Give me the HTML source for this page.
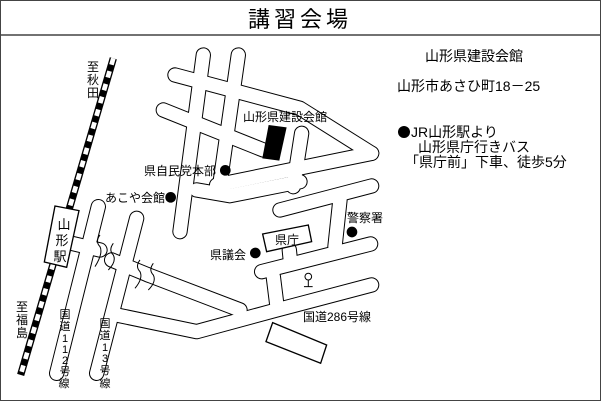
<!DOCTYPE html>
<html><head><meta charset="utf-8"><style>
html,body{margin:0;padding:0;background:#fff}
svg{display:block}
text{font-family:"Liberation Sans","Noto Sans CJK JP",sans-serif;fill:#000}
</style></head><body>
<svg width="601" height="401" viewBox="0 0 601 401" xmlns="http://www.w3.org/2000/svg">
<rect x="0.5" y="0.5" width="600" height="400" fill="#fff" stroke="#444" stroke-width="1"/>
<line x1="0" y1="35" x2="601" y2="35" stroke="#444" stroke-width="1.5"/>
<text x="300" y="27" font-size="22" text-anchor="middle" letter-spacing="4">講習会場</text>

<g transform="translate(0,30) scale(0.3333)">
 <g fill="none" stroke-linecap="round" stroke-linejoin="round">
  <g stroke="#000" stroke-width="46">
   <path d="M610,75 L540,605"/>
   <path d="M715,75 L660,460"/>
   <path d="M525,135 L900,235 L1115,370"/>
   <path d="M490,240 L790,360"/>
   <path d="M905,310 L880,470"/>
   <path d="M1115,370 L650,465"/>
   <path d="M590,480 L690,497 L900,455"/>
   <path d="M840,540 L1115,468"/>
   <path d="M1020,510 L1005,650"/>
   <path d="M785,725 L1112,642"/>
   <path d="M820,740 L830,820"/>
   <path d="M350,855 L590,905 L830,840 L1115,765"/>
   <path d="M445,735 L720,840"/>
   <path d="M335,690 L445,735"/>
   <path d="M295,530 L170,1030"/>
   <path d="M410,565 L290,1030"/>
   <path d="M215,640 L300,660"/>
   <path d="M868,660 L872,700"/>
  </g>
  <g stroke="#fff" stroke-width="40">
   <path d="M610,75 L540,605"/>
   <path d="M715,75 L660,460"/>
   <path d="M525,135 L900,235 L1115,370"/>
   <path d="M490,240 L790,360"/>
   <path d="M905,310 L880,470"/>
   <path d="M1115,370 L650,465"/>
   <path d="M590,480 L690,497 L900,455"/>
   <path d="M840,540 L1115,468"/>
   <path d="M1020,510 L1005,650"/>
   <path d="M785,725 L1112,642"/>
   <path d="M820,740 L830,820"/>
   <path d="M350,855 L590,905 L830,840 L1115,765"/>
   <path d="M445,735 L720,840"/>
   <path d="M335,690 L445,735"/>
   <path d="M295,530 L170,1030"/>
   <path d="M410,565 L290,1030"/>
   <path d="M215,640 L300,660"/>
   <path d="M868,660 L872,700"/>
  </g>
 </g>
 <g fill="none" stroke="#000" stroke-width="3">
  <path d="M300,615 q-15,20 0,35 q10,20 -15,60"/>
  <path d="M340,640 q-15,20 0,35 q10,20 -15,45"/>
  <path d="M420,690 q-15,20 0,35 q10,20 -15,50"/>
  <path d="M460,700 q-15,20 0,35 q10,20 -15,45"/>
 </g>
 <line x1="340" y1="85" x2="62" y2="1035" stroke="#000" stroke-width="22"/>
 <line x1="340" y1="85" x2="62" y2="1035" stroke="#fff" stroke-width="14" stroke-dasharray="20 20"/>
 <polygon points="165,528 237,542 200,712 133,696" fill="#fff" stroke="#000" stroke-width="4"/>
 <polygon points="806,285 860,292 838,392 787,385" fill="#000"/>
 <polygon points="788,612 925,585 935,635 800,665" fill="#fff" stroke="#000" stroke-width="4"/>
 <polygon points="818,878 980,945 962,1000 798,935" fill="#fff" stroke="#000" stroke-width="4"/>
 <circle cx="925" cy="740" r="10" fill="#fff" stroke="#000" stroke-width="3"/>
 <line x1="925" y1="750" x2="925" y2="770" stroke="#000" stroke-width="3"/>
 <line x1="912" y1="770" x2="938" y2="770" stroke="#000" stroke-width="3"/>
 <circle cx="676" cy="421" r="16" fill="#000"/>
 <circle cx="512" cy="502" r="16" fill="#000"/>
 <circle cx="1056" cy="606" r="16" fill="#000"/>
 <circle cx="766" cy="669" r="16" fill="#000"/>
</g>

<g font-size="12">
 <text x="243" y="121">山形県建設会館</text>
 <text x="144" y="175">県自民党本部</text>
 <text x="105" y="202">あこや会館</text>
 <text x="347" y="222">警察署</text>
 <text x="275" y="244">県庁</text>
 <text x="210" y="259">県議会</text>
 <text x="303" y="321">国道286号線</text>
 <g text-anchor="middle">
  <text x="93" y="71">至</text><text x="93" y="84">秋</text><text x="93" y="97">田</text>
  <text x="22" y="311">至</text><text x="22" y="324">福</text><text x="22" y="337">島</text>
  <text x="64" y="229" font-size="13">山</text><text x="62" y="245" font-size="13">形</text><text x="60" y="261" font-size="13">駅</text>
 </g>
 <g text-anchor="middle" font-size="11">
  <text x="65" y="318">国</text><text x="65" y="330">道</text><text x="65" y="342">1</text><text x="65" y="353">1</text><text x="65" y="364">2</text><text x="65" y="375">号</text><text x="64" y="387">線</text>
  <text x="105" y="327">国</text><text x="105" y="339">道</text><text x="105" y="351">1</text><text x="105" y="362">3</text><text x="105" y="374">号</text><text x="105" y="387">線</text>
 </g>
</g>

<g font-size="14">
 <text x="425" y="61">山形県建設会館</text>
 <text x="397" y="91">山形市あさひ町18－25</text>
 <circle cx="404" cy="132" r="6" fill="#000"/>
 <text x="411" y="137">JR山形駅より</text>
 <text x="418" y="152">山形県庁行きバス</text>
 <text x="405" y="167">「県庁前」下車、徒歩5分</text>
</g>
</svg>
</body></html>
